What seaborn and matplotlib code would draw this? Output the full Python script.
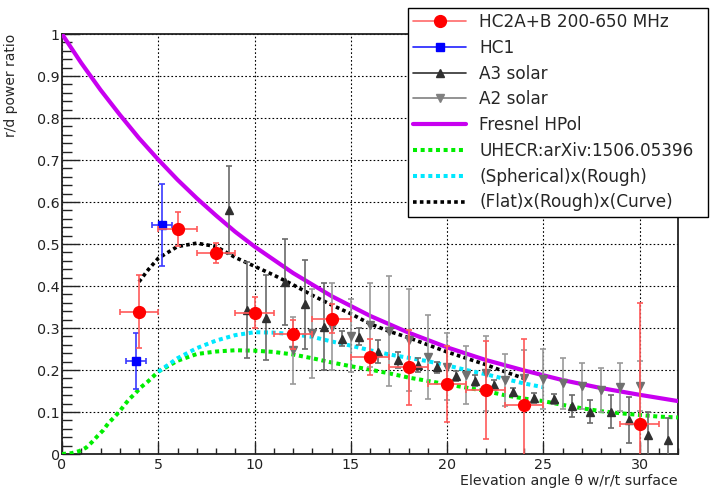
import matplotlib
matplotlib.use("Agg")
import matplotlib.pyplot as plt
from matplotlib.lines import Line2D
from matplotlib.ticker import MultipleLocator, FuncFormatter
import seaborn as sns

# HC2A+B 200-650 MHz (red circles)
hc2_x = [4, 6, 8, 10, 12, 14, 16, 18, 20, 22, 24, 30]
hc2_y = [0.339, 0.536, 0.478, 0.336, 0.285, 0.322, 0.232, 0.206, 0.167, 0.153, 0.117, 0.071]
hc2_yerr = [0.087, 0.040, 0.024, 0.037, 0.034, 0.035, 0.043, 0.089, 0.091, 0.117, 0.158, 0.289]
hc2_xerr = [1.0] * 12

# HC1 (blue squares)
hc1_x = [3.85, 5.2]
hc1_y = [0.222, 0.545]
hc1_yerr = [0.067, 0.097]
hc1_xerr = [0.5, 0.5]

# A3 solar (up triangles)
a3_x = [8.7, 9.6, 10.6, 11.6, 12.6, 13.6, 14.55, 15.45, 16.4, 17.45, 18.5, 19.5,
        20.45, 21.45, 22.45, 23.45, 24.5, 25.55, 26.5, 27.45, 28.5, 29.45, 30.45, 31.5]
a3_y = [0.581, 0.343, 0.325, 0.41, 0.356, 0.303, 0.275, 0.279, 0.244, 0.224, 0.212, 0.206,
        0.186, 0.175, 0.164, 0.148, 0.133, 0.131, 0.114, 0.101, 0.101, 0.081, 0.045, 0.033]
a3_err = [0.104, 0.115, 0.102, 0.103, 0.107, 0.103, 0.017, 0.02, 0.028, 0.019, 0.016, 0.013,
          0.012, 0.012, 0.012, 0.01, 0.012, 0.012, 0.026, 0.028, 0.04, 0.054, 0.055, 0.052]

# A2 solar (down triangles)
a2_x = [12, 13, 14, 15, 16, 17, 18, 19, 20, 21, 22, 23, 24, 25, 26, 27, 28, 29, 30]
a2_y = [0.247, 0.287, 0.303, 0.282, 0.307, 0.293, 0.271, 0.232, 0.208, 0.188, 0.192, 0.176,
        0.18, 0.178, 0.168, 0.162, 0.152, 0.159, 0.162]
a2_err = [0.08, 0.105, 0.104, 0.087, 0.1, 0.13, 0.122, 0.1, 0.08, 0.069, 0.09, 0.062,
          0.068, 0.072, 0.06, 0.054, 0.052, 0.057, 0.059]

# Fresnel HPol
fres_x = [0, 1, 2, 3, 4, 5, 6, 7, 8, 9, 10, 12, 14, 16, 18, 20, 22, 24, 26, 28, 30, 32]
fres_y = [1.0, 0.931, 0.867, 0.808, 0.752, 0.701, 0.653, 0.609, 0.568, 0.529, 0.494, 0.431,
          0.376, 0.329, 0.289, 0.254, 0.224, 0.199, 0.176, 0.157, 0.141, 0.126]

# UHECR:arXiv:1506.05396
uhecr_x = [0, 0.5, 0.9, 1.25, 1.55, 1.85, 2.15, 2.4, 2.7, 3.0, 3.25, 3.5, 3.8, 4.1, 4.45, 5,
           6, 7, 8, 9, 10, 11, 12, 13, 14, 15, 16, 17, 18, 19, 20, 21, 22, 23, 24, 25, 26,
           27, 28, 29, 30, 31, 32]
uhecr_y = [0.0, 0.002, 0.007, 0.015, 0.028, 0.043, 0.057, 0.073, 0.087, 0.102, 0.117, 0.131,
           0.144, 0.159, 0.172, 0.196, 0.222, 0.238, 0.244, 0.247, 0.246, 0.243, 0.237, 0.228,
           0.218, 0.209, 0.201, 0.192, 0.182, 0.174, 0.166, 0.158, 0.15, 0.14, 0.132, 0.126,
           0.117, 0.109, 0.102, 0.097, 0.093, 0.089, 0.087]

# (Spherical)x(Rough)
sph_x = [5, 6, 7, 8, 9, 10, 11, 12, 13, 14, 15, 16, 17, 18, 19, 20, 21, 22, 23, 24, 25]
sph_y = [0.196, 0.228, 0.252, 0.27, 0.283, 0.29, 0.289, 0.285, 0.279, 0.268, 0.258, 0.247,
         0.237, 0.229, 0.221, 0.211, 0.2, 0.19, 0.179, 0.168, 0.159]

# (Flat)x(Rough)x(Curve)
flat_x = [4, 4.5, 5, 6, 7, 8, 9, 10, 11, 12, 13, 14, 15, 16, 17, 18, 19, 20, 21, 22, 23, 24]
flat_y = [0.41, 0.44, 0.466, 0.494, 0.502, 0.494, 0.468, 0.447, 0.426, 0.403, 0.378, 0.355,
          0.334, 0.31, 0.292, 0.277, 0.26, 0.243, 0.228, 0.213, 0.196, 0.18]

sns.set_style("ticks")
plt.rcParams['font.family'] = ['DejaVu Sans']

fig = plt.figure(figsize=(7.15, 4.9), dpi=100)
ax = fig.add_axes([62 / 715, 36 / 490, 616 / 715, 420 / 490])

dots = (0, (1, 0.9))
sns.lineplot(x=fres_x, y=fres_y, ax=ax, color='#c800f0', lw=3, estimator=None, sort=False, zorder=3)
sns.lineplot(x=uhecr_x, y=uhecr_y, ax=ax, color='#00ee00', lw=2.9, estimator=None, sort=False,
             linestyle=dots, zorder=3)
sns.lineplot(x=sph_x, y=sph_y, ax=ax, color='#00e8ff', lw=2.9, estimator=None, sort=False,
             linestyle=dots, zorder=3)
sns.lineplot(x=flat_x, y=flat_y, ax=ax, color='black', lw=2.6, estimator=None, sort=False,
             linestyle=dots, zorder=4)

ax.errorbar(a2_x, a2_y, yerr=a2_err, fmt='v', color='#707070', ms=6, ecolor='#9a9a9a',
            elinewidth=1.2, capsize=2.5, capthick=1.2, zorder=5)
ax.errorbar(a3_x, a3_y, yerr=a3_err, fmt='^', color='#303030', ms=6, ecolor='#6a6a6a',
            elinewidth=1.2, capsize=2.5, capthick=1.2, zorder=5)
ax.errorbar(hc1_x, hc1_y, xerr=hc1_xerr, yerr=hc1_yerr, fmt='s', color='#0000ff', ms=5.5,
            ecolor='#3a3aff', elinewidth=1.2, capsize=2.5, capthick=1.2, zorder=6)
ax.errorbar(hc2_x, hc2_y, xerr=hc2_xerr, yerr=hc2_yerr, fmt='o', color='#ff0000', ms=8.5,
            ecolor='#ff5a5a', elinewidth=1.2, capsize=2.5, capthick=1.2, zorder=7)

ax.set_xlim(0, 32)
ax.set_ylim(0, 1)
ax.xaxis.set_major_locator(MultipleLocator(5))
ax.xaxis.set_minor_locator(MultipleLocator(1))
ax.yaxis.set_major_locator(MultipleLocator(0.1))
ax.yaxis.set_minor_locator(MultipleLocator(0.02))
ax.yaxis.set_major_formatter(FuncFormatter(lambda v, p: f"{v:g}"))
ax.tick_params(which='both', direction='in', top=False, right=False, colors='#222222',
               labelsize=10.3, width=1)
ax.tick_params(axis='x', which='major', length=9, pad=3)
ax.tick_params(axis='x', which='minor', length=4.5)
ax.tick_params(axis='y', which='major', length=13, pad=1.5)
ax.tick_params(axis='y', which='minor', length=7)
ax.grid(True, which='major', color='black', linestyle=(0, (1.5, 2)), linewidth=0.8)
ax.set_axisbelow(True)
for s in ax.spines.values():
    s.set_linewidth(1.3)
    s.set_color('#222222')

ax.set_ylabel('r/d power ratio', fontsize=10, loc='top')
ax.yaxis.set_label_coords(-0.071, 1)
ax.set_xlabel('Elevation angle θ w/r/t surface', fontsize=10.3, loc='right')
ax.xaxis.set_label_coords(1, -0.047)

handles = [
    Line2D([0], [0], color='#ff6a6a', lw=1.2, marker='o', ms=8.5, mfc='red', mec='red'),
    Line2D([0], [0], color='#2020ff', lw=1.2, marker='s', ms=5.5, mfc='blue', mec='blue'),
    Line2D([0], [0], color='#303030', lw=1.2, marker='^', ms=6),
    Line2D([0], [0], color='#808080', lw=1.2, marker='v', ms=6),
    Line2D([0], [0], color='#c800f0', lw=3),
    Line2D([0], [0], color='#00ee00', lw=2.9, linestyle=dots),
    Line2D([0], [0], color='#00e8ff', lw=2.9, linestyle=dots),
    Line2D([0], [0], color='black', lw=2.6, linestyle=dots),
]
labels = ['HC2A+B 200-650 MHz', 'HC1', 'A3 solar', 'A2 solar', 'Fresnel HPol',
          'UHECR:arXiv:1506.05396', '(Spherical)x(Rough)', '(Flat)x(Rough)x(Curve)']
leg = fig.legend(handles, labels, loc='upper left', bbox_to_anchor=(0.571, 0.984, 0.419, 0),
                 mode='expand', fontsize=12.2, frameon=True, fancybox=False, edgecolor='black',
                 framealpha=1, borderaxespad=0, handlelength=3.1, labelspacing=0.46,
                 handletextpad=0.8, borderpad=0.3)
leg.get_frame().set_linewidth(1.0)
leg.set_zorder(10)

fig.savefig('out.png', dpi=100)
